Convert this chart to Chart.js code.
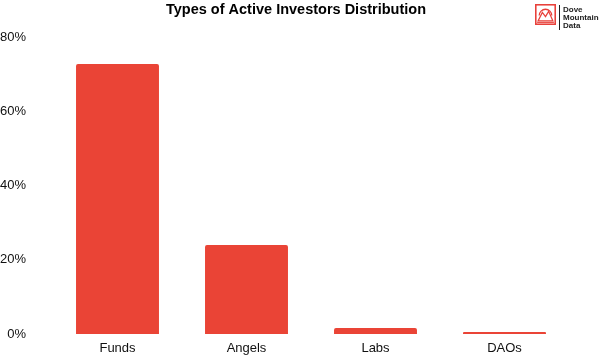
<!DOCTYPE html>
<html>
<head>
<meta charset="utf-8">
<script src="https://cdn.jsdelivr.net/npm/chart.js@4"></script>
<style>
  html, body { margin: 0; padding: 0; background: #fff; overflow: hidden; }
  #wrap { position: relative; width: 600px; height: 356px; }
  canvas { display: block; }
  #logo { position: absolute; left: 535px; top: 4px; display: flex; align-items: flex-start; }
  #logo .bar { width: 1px; height: 25px; background: #222; margin: 1px 3px 0 3px; }
  #logo .txt { font-family: "Liberation Sans", Arial, sans-serif; font-weight: bold; font-size: 8px; line-height: 7.8px; color: #222; padding-top: 2px; }
</style>
</head>
<body>
<div id="wrap">
  <canvas id="c" width="600" height="356" style="width:600px;height:356px"></canvas>
  <div id="logo">
    <svg width="21" height="21" viewBox="0 0 20 20">
      <rect x="0.75" y="0.75" width="18.5" height="18.5" fill="none" stroke="#e8403a" stroke-width="1.5"/>
      <path d="M3 16 L7 8 L10 12 L13 7 L17 16 Z" fill="none" stroke="#e8403a" stroke-width="1.2"/>
      <path d="M4 11 A6 6 0 0 1 16 11" fill="none" stroke="#e8403a" stroke-width="1.2"/>
      <line x1="2" y1="17.5" x2="18" y2="17.5" stroke="#e8403a" stroke-width="1"/>
    </svg>
    <div class="bar"></div>
    <div class="txt">Dove<br>Mountain<br>Data</div>
  </div>
</div>
<script>
const categories = ["Funds", "Angels", "Labs", "DAOs"];
const shareValues = [72.7, 24.0, 1.6, 0.5];
const yTicks = [0, 20, 40, 60, 80];
const chartTitle = "Types of Active Investors Distribution";

const FONT = "'Liberation Sans', Arial, Helvetica, sans-serif";
Chart.defaults.font.family = FONT;
Chart.defaults.color = "#111";

const titlePlugin = {
  id: "customTitle",
  afterDraw(chart) {
    const ctx = chart.ctx;
    ctx.save();
    ctx.font = "bold 14.5px " + FONT;
    ctx.fillStyle = "#000";
    ctx.textAlign = "center";
    ctx.textBaseline = "middle";
    ctx.fillText(chartTitle, 296, 10);
    ctx.restore();
  }
};

new Chart(document.getElementById("c"), {
  type: "bar",
  data: {
    labels: categories,
    datasets: [{
      data: shareValues,
      backgroundColor: "#EA4436",
      borderRadius: { topLeft: 2, topRight: 2, bottomLeft: 0, bottomRight: 0 },
      borderSkipped: "bottom",
      barPercentage: 0.643,
      categoryPercentage: 1.0,
      minBarLength: 2
    }]
  },
  plugins: [titlePlugin],
  options: {
    responsive: false,
    maintainAspectRatio: false,
    animation: false,
    layout: { padding: { left: 0, right: 31, top: 37, bottom: 0 } },
    plugins: {
      legend: { display: false },
      tooltip: { enabled: false },
      title: { display: false }
    },
    scales: {
      x: {
        grid: { display: false, drawTicks: false },
        border: { display: false },
        ticks: { font: { size: 13 }, color: "#111", padding: 7, maxRotation: 0 },
        afterFit(s) { s.height = 22; s.paddingTop = 0; s.paddingBottom = 0; s.paddingLeft = 0; s.paddingRight = 0; }
      },
      y: {
        min: 0, max: 80,
        afterBuildTicks(s) { s.ticks = yTicks.map(v => ({ value: v })); },
        grid: { display: false, drawTicks: false },
        border: { display: false },
        ticks: { font: { size: 13 }, color: "#111", padding: 27, callback: v => v + "%" },
        afterFit(s) { s.width = 53; s.paddingTop = 0; s.paddingBottom = 0; }
      }
    }
  }
});
</script>
</body>
</html>
